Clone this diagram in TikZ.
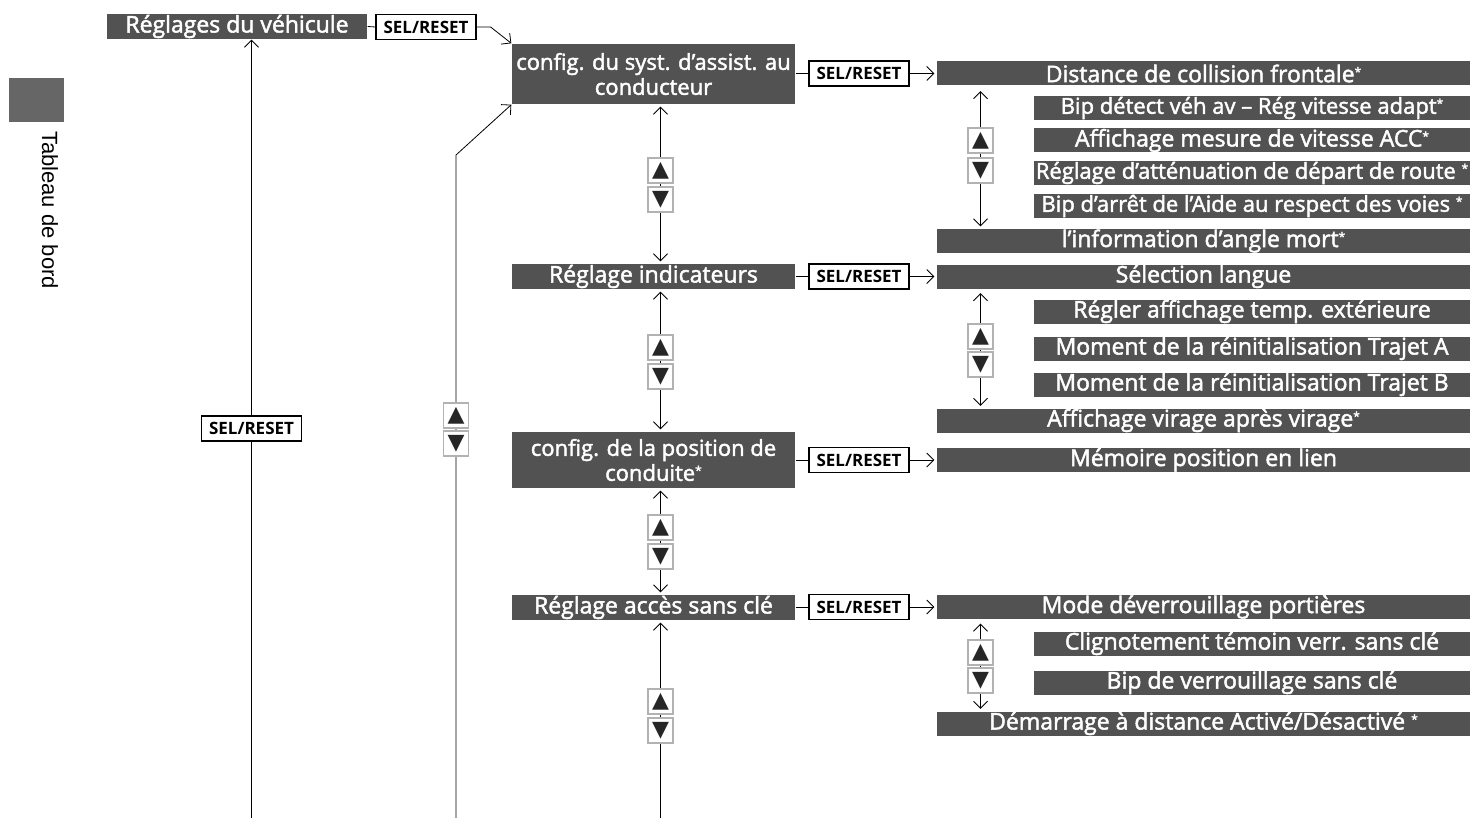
\documentclass[tikz,border=0pt]{standalone}
\usepackage{fontspec}
\setmainfont{Open Sans}
\newfontfamily\boxfont{Open Sans}[FakeBold=2]
\newfontfamily\tabfont{Liberation Sans}
\newfontfamily\symfont{DejaVu Sans}
\usetikzlibrary{arrows.meta,positioning,calc,backgrounds}
\definecolor{boxgray}{RGB}{82,82,82}
\definecolor{tabgray}{RGB}{102,102,102}
\newcommand\starmk{\raisebox{3pt}{\fontsize{6}{6}\selectfont *}}

\tikzset{
  menu/.style={fill=boxgray, text=white, inner sep=0pt, align=center,
    font=\boxfont\fontsize{11.5}{12.5}\selectfont, minimum height=12.5pt},
  midmenu/.style={menu, minimum width=141.5pt},
  twoline/.style={midmenu, font=\boxfont\fontsize{11}{12.5}\selectfont},
  item/.style={fill=boxgray, text=white, inner sep=0pt,
    font=\boxfont\fontsize{11.5}{12.5}\selectfont, minimum height=12pt},
  wideitem/.style={item, minimum width=266.5pt},
  subitem/.style={item, minimum width=218pt},
  longitem/.style={subitem, font=\boxfont\fontsize{11}{12.5}\selectfont},
  selbox/.style={draw, fill=white, inner sep=0pt, line width=0.6pt,
    font=\bfseries\fontsize{8.5}{9}\selectfont, minimum width=50pt, minimum height=12.5pt},
  arbox/.style={draw=gray!60, fill=white, inner sep=0pt, minimum size=12.5pt,
    text=black!85, font=\symfont\fontsize{11}{11}\selectfont}
}

\begin{document}
\begin{tikzpicture}[x=0.5pt, y=-0.5pt, line width=0.7pt,
  >={Straight Barb[length=3.5pt,width=7pt]}]
\useasboundingbox (0,0) rectangle (1476,818);

% side tab
\node[fill=tabgray, inner sep=0pt, minimum width=27.5pt, minimum height=22pt] (tab) at (36.5,100) {};
\node[rotate=-90, font=\tabfont\fontsize{11}{13}\selectfont] (tabtxt) at (50,210) {Tableau de bord};

% menu column
\node[menu, minimum width=130pt] (vehic) at (237,26.5) {Réglages du véhicule};
\node[twoline, minimum height=30pt] (assist) at (653.5,74) {config. du syst. d’assist. au\\conducteur};
\node[midmenu] (indic) at (653.5,276.5) {Réglage indicateurs};
\node[twoline, minimum height=28pt] (posit) at (653.5,460) {config. de la position de\\conduite\starmk};
\node[midmenu] (acces) at (653.5,607.5) {Réglage accès sans clé};

% SEL/RESET buttons
\node[selbox] (sel0) at (426,27) {SEL/RESET};
\node[selbox] (selL) at (251.5,428.5) {SEL/RESET};
\node[selbox] (sel1) at (859,73.5) {SEL/RESET};
\node[selbox] (sel2) at (859,276.5) {SEL/RESET};
\node[selbox] (sel3) at (859,460) {SEL/RESET};
\node[selbox] (sel4) at (859,607) {SEL/RESET};

% up/down buttons
\node[arbox] (u0) at (456,415.5) {▲};
\node[arbox] (d0) at (456,443.5) {▼};
\node[arbox] (u1) at (660.5,170.5) {▲};
\node[arbox] (d1) at (660.5,199.5) {▼};
\node[arbox] (u2) at (660.5,347.5) {▲};
\node[arbox] (d2) at (660.5,376.5) {▼};
\node[arbox] (u3) at (660.5,527.5) {▲};
\node[arbox] (d3) at (660.5,556.5) {▼};
\node[arbox] (u4) at (660.5,701.5) {▲};
\node[arbox] (d4) at (660.5,730.5) {▼};
\node[arbox] (ra) at (980.5,140.5) {▲};
\node[arbox] (rb) at (980.5,170.5) {▼};
\node[arbox] (rc) at (980.5,336.5) {▲};
\node[arbox] (rd) at (980.5,364.5) {▼};
\node[arbox] (re) at (980.5,652.5) {▲};
\node[arbox] (rf) at (980.5,680.5) {▼};

% driver assist settings
\node[wideitem] (dist) at (1203.5,73.5) {Distance de collision frontale\starmk};
\node[longitem] (bipav) at (1252,108) {Bip détect véh av – Rég vitesse adapt\starmk};
\node[subitem] (acc) at (1252,140.5) {Affichage mesure de vitesse ACC\starmk};
\node[longitem] (atten) at (1252,173) {Réglage d’atténuation de départ de route \starmk};
\node[longitem] (voies) at (1252,206) {Bip d’arrêt de l’Aide au respect des voies \starmk};
\node[wideitem] (angle) at (1203.5,241) {l’information d’angle mort\starmk};

% meter settings
\node[wideitem] (langue) at (1203.5,276.5) {Sélection langue};
\node[subitem] (temp) at (1252,311.5) {Régler affichage temp. extérieure};
\node[subitem] (tripa) at (1252,348.5) {Moment de la réinitialisation Trajet A};
\node[subitem] (tripb) at (1252,384.5) {Moment de la réinitialisation Trajet B};
\node[wideitem] (virage) at (1203.5,420.5) {Affichage virage après virage\starmk};

% driving position
\node[wideitem] (memo) at (1203.5,460) {Mémoire position en lien};

% keyless access
\node[wideitem] (porte) at (1203.5,607) {Mode déverrouillage portières};
\node[subitem] (clign) at (1252,643.5) {Clignotement témoin verr. sans clé};
\node[subitem] (bipver) at (1252,682.5) {Bip de verrouillage sans clé};
\node[wideitem] (demar) at (1203.5,723.5) {Démarrage à distance Activé/Désactivé \starmk};

\coordinate (lbot) at (251.5,818);
\coordinate (mbot) at (456,818);
\coordinate (mbend) at (456,155);
\coordinate (cbot) at (660.5,818);

\begin{scope}[on background layer]
\draw (vehic.east) -- (sel0.west);
\draw[->] (sel0.east) -- ++(14,0) -- (assist.north west);
\draw[->] (lbot) -- (vehic.south -| lbot);
\draw[->] (mbot) -- (mbend) -- (assist.south west);
\draw[<->, shorten <=1pt, shorten >=1pt] (assist.south -| u1) -- (indic.north -| u1);
\draw[<->, shorten <=1pt, shorten >=1pt] (indic.south -| u2) -- (posit.north -| u2);
\draw[<->, shorten <=1pt, shorten >=1pt] (posit.south -| u3) -- (acces.north -| u3);
\draw[->, shorten >=1pt] (cbot) -- (acces.south -| u4);
\draw (assist.east |- sel1) -- (sel1.west);
\draw (indic.east) -- (sel2.west);
\draw (posit.east) -- (sel3.west);
\draw (acces.east |- sel4) -- (sel4.west);
\draw[->, shorten >=1pt] (sel1.east) -- (dist.west);
\draw[->, shorten >=1pt] (sel2.east) -- (langue.west);
\draw[->, shorten >=1pt] (sel3.east) -- (memo.west);
\draw[->, shorten >=1pt] (sel4.east) -- (porte.west);
\draw[<->, shorten <=2.5pt, shorten >=1pt] (dist.south -| ra) -- (angle.north -| ra);
\draw[<->, shorten <=2pt, shorten >=1pt] (langue.south -| rc) -- (virage.north -| rc);
\draw[<->, shorten <=2pt, shorten >=1pt] (porte.south -| re) -- (demar.north -| re);
\end{scope}
\end{tikzpicture}
\end{document}
